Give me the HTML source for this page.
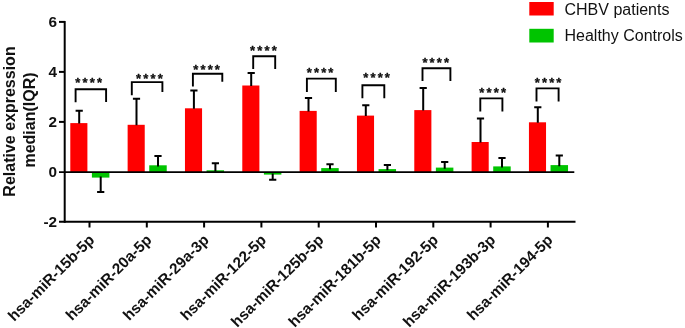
<!DOCTYPE html><html><head><meta charset="utf-8"><title>chart</title>
<style>html,body{margin:0;padding:0;background:#fff}svg{display:block}text{font-family:"Liberation Sans",Arial,sans-serif;fill:#111}</style></head><body>
<svg width="685" height="328" viewBox="0 0 685 328">
<rect width="685" height="328" fill="#fff"/>
<rect x="70.30" y="123.1" width="17.1" height="49.0" fill="#ff0000"/>
<rect x="91.90" y="172.1" width="17.5" height="5.5" fill="#00c400"/>
<path d="M79.2 123.6V110.8M75.6 110.8H82.8" stroke="#000" stroke-width="2" fill="none"/>
<path d="M100.7 176.4V192.0M97.1 192.0H104.3" stroke="#000" stroke-width="2" fill="none"/>
<path d="M75.6 102.3V89.3H106.1V102.0" stroke="#000" stroke-width="1.9" fill="none"/>
<text x="75.3" y="87.0" font-size="13" font-weight="bold" letter-spacing="2.17" stroke="#000" stroke-width="0.3" stroke-linejoin="round">****</text>
<path d="M89.5 222V227.5" stroke="#000" stroke-width="2"/>
<text transform="translate(95.3,240.8) rotate(-45)" text-anchor="end" font-size="15.3" font-weight="bold">hsa-miR-15b-5p</text>
<rect x="127.63" y="124.8" width="17.1" height="47.3" fill="#ff0000"/>
<rect x="149.23" y="165.3" width="17.5" height="6.8" fill="#00c400"/>
<path d="M136.5 125.3V98.7M132.9 98.7H140.1" stroke="#000" stroke-width="2" fill="none"/>
<path d="M158.0 166.5V156.0M154.4 156.0H161.6" stroke="#000" stroke-width="2" fill="none"/>
<path d="M131.8 95.3V82.1H162.4V91.9" stroke="#000" stroke-width="1.9" fill="none"/>
<text x="136.1" y="83.2" font-size="13" font-weight="bold" letter-spacing="2.17" stroke="#000" stroke-width="0.3" stroke-linejoin="round">****</text>
<path d="M146.8 222V227.5" stroke="#000" stroke-width="2"/>
<text transform="translate(152.6,240.8) rotate(-45)" text-anchor="end" font-size="15.3" font-weight="bold">hsa-miR-20a-5p</text>
<rect x="184.96" y="108.3" width="17.1" height="63.8" fill="#ff0000"/>
<rect x="206.56" y="170.3" width="17.5" height="1.8" fill="#00c400"/>
<path d="M193.9 108.8V90.5M190.3 90.5H197.5" stroke="#000" stroke-width="2" fill="none"/>
<path d="M215.4 171.5V163.3M211.8 163.3H219.0" stroke="#000" stroke-width="2" fill="none"/>
<path d="M192.9 86.5V73.8H222.3V81.8" stroke="#000" stroke-width="1.9" fill="none"/>
<text x="193.2" y="73.5" font-size="13" font-weight="bold" letter-spacing="2.17" stroke="#000" stroke-width="0.3" stroke-linejoin="round">****</text>
<path d="M204.1 222V227.5" stroke="#000" stroke-width="2"/>
<text transform="translate(209.9,240.8) rotate(-45)" text-anchor="end" font-size="15.3" font-weight="bold">hsa-miR-29a-3p</text>
<rect x="242.29" y="85.5" width="17.1" height="86.6" fill="#ff0000"/>
<rect x="263.89" y="172.1" width="17.5" height="2.5" fill="#00c400"/>
<path d="M251.2 86.0V72.9M247.6 72.9H254.8" stroke="#000" stroke-width="2" fill="none"/>
<path d="M272.7 173.4V179.7M269.1 179.7H276.3" stroke="#000" stroke-width="2" fill="none"/>
<path d="M253.2 69.1V56.3H275.2V69.1" stroke="#000" stroke-width="1.9" fill="none"/>
<text x="250.0" y="55.1" font-size="13" font-weight="bold" letter-spacing="2.17" stroke="#000" stroke-width="0.3" stroke-linejoin="round">****</text>
<path d="M261.4 222V227.5" stroke="#000" stroke-width="2"/>
<text transform="translate(267.2,240.8) rotate(-45)" text-anchor="end" font-size="15.3" font-weight="bold">hsa-miR-122-5p</text>
<rect x="299.62" y="110.9" width="17.1" height="61.2" fill="#ff0000"/>
<rect x="321.22" y="168.1" width="17.5" height="4.0" fill="#00c400"/>
<path d="M308.5 111.4V98.1M304.9 98.1H312.1" stroke="#000" stroke-width="2" fill="none"/>
<path d="M330.0 169.3V164.2M326.4 164.2H333.6" stroke="#000" stroke-width="2" fill="none"/>
<path d="M306.9 92.0V78.6H335.8V92.0" stroke="#000" stroke-width="1.9" fill="none"/>
<text x="306.7" y="77.0" font-size="13" font-weight="bold" letter-spacing="2.17" stroke="#000" stroke-width="0.3" stroke-linejoin="round">****</text>
<path d="M318.7 222V227.5" stroke="#000" stroke-width="2"/>
<text transform="translate(324.5,240.8) rotate(-45)" text-anchor="end" font-size="15.3" font-weight="bold">hsa-miR-125b-5p</text>
<rect x="356.95" y="115.6" width="17.1" height="56.5" fill="#ff0000"/>
<rect x="378.55" y="169.1" width="17.5" height="3.0" fill="#00c400"/>
<path d="M365.8 116.1V105.3M362.2 105.3H369.4" stroke="#000" stroke-width="2" fill="none"/>
<path d="M387.4 170.3V164.9M383.8 164.9H391.0" stroke="#000" stroke-width="2" fill="none"/>
<path d="M362.4 98.3V85.2H384.3V98.3" stroke="#000" stroke-width="1.9" fill="none"/>
<text x="363.2" y="82.4" font-size="13" font-weight="bold" letter-spacing="2.17" stroke="#000" stroke-width="0.3" stroke-linejoin="round">****</text>
<path d="M376.0 222V227.5" stroke="#000" stroke-width="2"/>
<text transform="translate(381.8,240.8) rotate(-45)" text-anchor="end" font-size="15.3" font-weight="bold">hsa-miR-181b-5p</text>
<rect x="414.28" y="110.1" width="17.1" height="62.0" fill="#ff0000"/>
<rect x="435.88" y="167.6" width="17.5" height="4.5" fill="#00c400"/>
<path d="M423.2 110.6V88.1M419.6 88.1H426.8" stroke="#000" stroke-width="2" fill="none"/>
<path d="M444.7 168.8V162.1M441.1 162.1H448.3" stroke="#000" stroke-width="2" fill="none"/>
<path d="M422.5 81.0V68.2H450.4V81.0" stroke="#000" stroke-width="1.9" fill="none"/>
<text x="422.4" y="66.8" font-size="13" font-weight="bold" letter-spacing="2.17" stroke="#000" stroke-width="0.3" stroke-linejoin="round">****</text>
<path d="M433.3 222V227.5" stroke="#000" stroke-width="2"/>
<text transform="translate(439.1,240.8) rotate(-45)" text-anchor="end" font-size="15.3" font-weight="bold">hsa-miR-192-5p</text>
<rect x="471.61" y="142.0" width="17.1" height="30.1" fill="#ff0000"/>
<rect x="493.21" y="166.4" width="17.5" height="5.7" fill="#00c400"/>
<path d="M480.5 142.5V118.5M476.9 118.5H484.1" stroke="#000" stroke-width="2" fill="none"/>
<path d="M502.0 167.6V158.1M498.4 158.1H505.6" stroke="#000" stroke-width="2" fill="none"/>
<path d="M480.3 111.5V98.4H502.4V111.5" stroke="#000" stroke-width="1.9" fill="none"/>
<text x="479.3" y="97.1" font-size="13" font-weight="bold" letter-spacing="2.17" stroke="#000" stroke-width="0.3" stroke-linejoin="round">****</text>
<path d="M490.6 222V227.5" stroke="#000" stroke-width="2"/>
<text transform="translate(496.4,240.8) rotate(-45)" text-anchor="end" font-size="15.3" font-weight="bold">hsa-miR-193b-3p</text>
<rect x="528.94" y="122.3" width="17.1" height="49.8" fill="#ff0000"/>
<rect x="550.54" y="165.1" width="17.5" height="7.0" fill="#00c400"/>
<path d="M537.8 122.8V107.2M534.2 107.2H541.4" stroke="#000" stroke-width="2" fill="none"/>
<path d="M559.3 166.3V155.6M555.7 155.6H562.9" stroke="#000" stroke-width="2" fill="none"/>
<path d="M536.5 101.6V88.4H558.6V101.6" stroke="#000" stroke-width="1.9" fill="none"/>
<text x="534.7" y="87.3" font-size="13" font-weight="bold" letter-spacing="2.17" stroke="#000" stroke-width="0.3" stroke-linejoin="round">****</text>
<path d="M547.9 222V227.5" stroke="#000" stroke-width="2"/>
<text transform="translate(553.7,240.8) rotate(-45)" text-anchor="end" font-size="15.3" font-weight="bold">hsa-miR-194-5p</text>
<path d="M64.7 21V222.8" stroke="#000" stroke-width="2" fill="none"/>
<path d="M59 172.1H574.3" stroke="#000" stroke-width="1.9" fill="none"/>
<path d="M59 221.8H575.5" stroke="#000" stroke-width="2" fill="none"/>
<path d="M59 21.9H65" stroke="#000" stroke-width="2"/>
<path d="M59 71.9H65" stroke="#000" stroke-width="2"/>
<path d="M59 121.9H65" stroke="#000" stroke-width="2"/>
<text x="57" y="27.4" text-anchor="end" font-size="15.3" font-weight="bold">6</text>
<text x="57" y="77.4" text-anchor="end" font-size="15.3" font-weight="bold">4</text>
<text x="57" y="127.4" text-anchor="end" font-size="15.3" font-weight="bold">2</text>
<text x="57" y="177.4" text-anchor="end" font-size="15.3" font-weight="bold">0</text>
<text x="57" y="227.4" text-anchor="end" font-size="15.3" font-weight="bold">-2</text>
<text transform="translate(15,121.5) rotate(-90)" text-anchor="middle" font-size="16" font-weight="bold">Relative expression</text>
<text transform="translate(34.8,120) rotate(-90)" text-anchor="middle" font-size="16" font-weight="bold">median(IQR)</text>
<rect x="529.3" y="2" width="24.4" height="13.5" fill="#ff0000"/>
<rect x="529.3" y="28.8" width="24.4" height="13.7" fill="#00c400"/>
<text x="564.5" y="14.8" font-size="16">CHBV patients</text>
<text x="564.5" y="40.5" font-size="16">Healthy Controls</text>
</svg></body></html>
